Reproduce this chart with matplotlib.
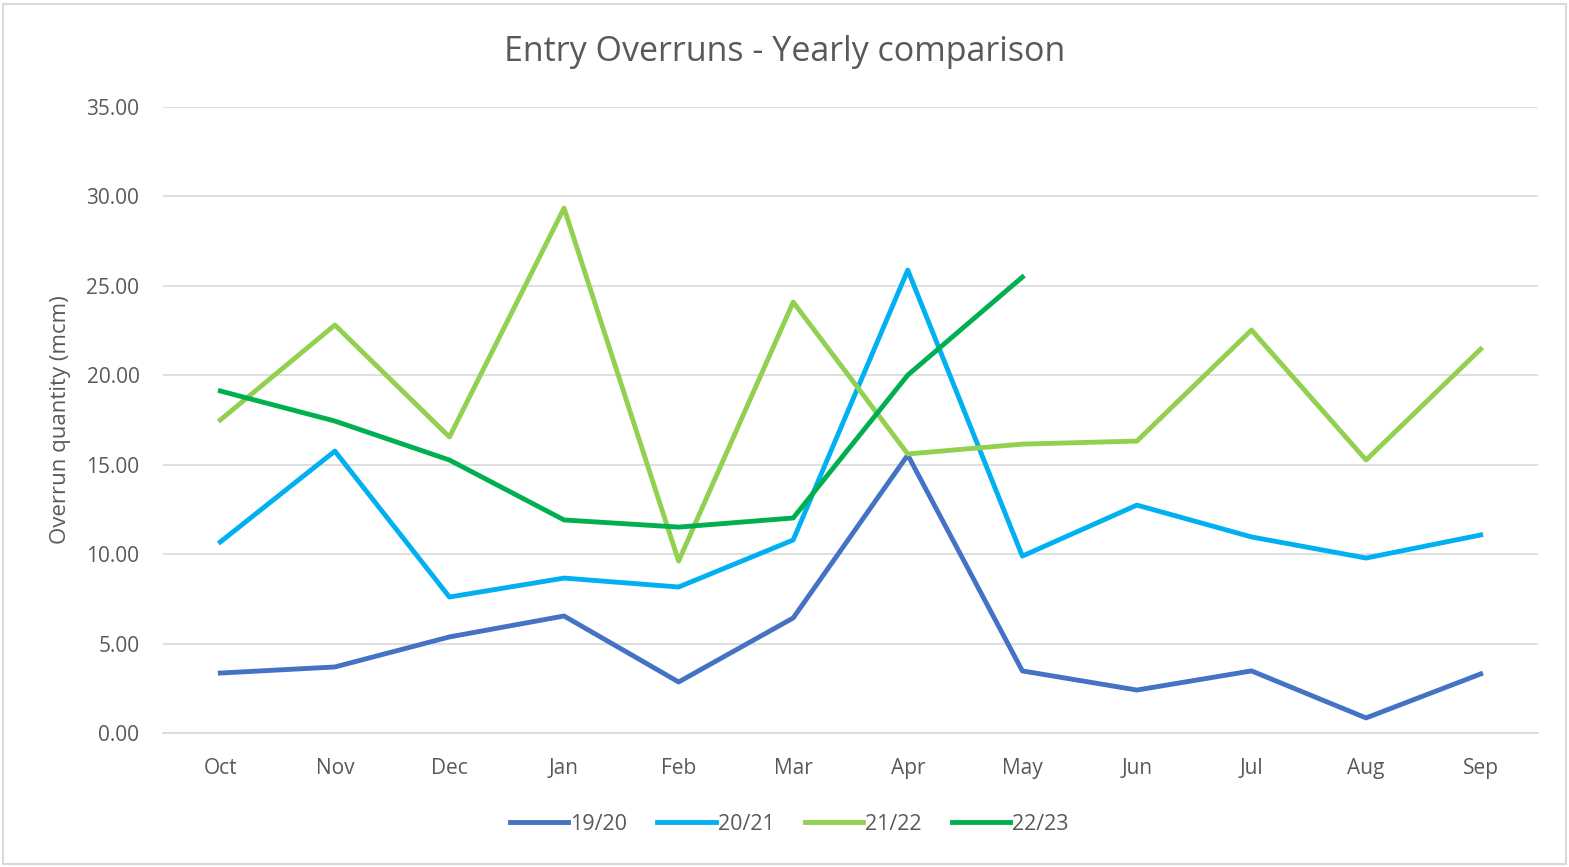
import matplotlib.pyplot as plt
from matplotlib.patches import Rectangle

months = ['Oct', 'Nov', 'Dec', 'Jan', 'Feb', 'Mar', 'Apr', 'May', 'Jun', 'Jul', 'Aug', 'Sep']
y1920 = [3.35, 3.69, 5.37, 6.54, 2.85, 6.43, 15.54, 3.47, 2.40, 3.47, 0.84, 3.30]
y2021 = [10.68, 15.76, 7.60, 8.66, 8.16, 10.79, 25.88, 9.89, 12.74, 10.96, 9.78, 11.07]
y2122 = [17.50, 22.81, 16.55, 29.35, 9.61, 24.09, 15.60, 16.15, 16.32, 22.53, 15.26, 21.46]
y2223 = [19.12, 17.44, 15.26, 11.91, 11.51, 12.02, 20.01, 25.49]

plt.rcParams['font.family'] = ['Open Sans', 'DejaVu Sans']

fig = plt.figure(figsize=(15.69, 8.67), dpi=100)
ax = fig.add_axes([0.1039, 0.1546, 0.8763, 0.722])

x = list(range(len(months)))
ax.plot(x, y1920, color='#4472C4', lw=3.5, label='19/20')
ax.plot(x, y2021, color='#00B0F0', lw=3.5, label='20/21')
ax.plot(x, y2122, color='#92D050', lw=3.5, label='21/22')
ax.plot(x[:len(y2223)], y2223, color='#00B050', lw=3.5, label='22/23')

ax.set_xlim(-0.5, 11.5)
ax.set_ylim(0, 35)
ax.set_yticks(range(0, 36, 5))
ax.set_yticklabels(['%.2f' % v for v in range(0, 36, 5)])
ax.set_xticks(x)
ax.set_xticklabels(months)
ax.grid(axis='y', color='#d9d9d9', lw=1.2)
ax.set_axisbelow(True)
for s in ['top', 'right', 'left']:
    ax.spines[s].set_visible(False)
ax.spines['bottom'].set_color('#d9d9d9')
ax.spines['bottom'].set_linewidth(1.2)
ax.tick_params(length=0, labelsize=15, colors='#595959')
ax.tick_params(axis='x', pad=18)
ax.tick_params(axis='y', pad=17)

ax.set_ylabel('Overrun quantity (mcm)', fontsize=16, color='#595959')
ax.yaxis.set_label_coords(-0.067, 0.5)

fig.text(0.5, 0.940, 'Entry Overruns - Yearly comparison', ha='center', va='center',
         fontsize=24.5, color='#595959')

fig.legend(loc='center', bbox_to_anchor=(0.503, 0.049), ncol=4, frameon=False,
           fontsize=15.5, handlelength=2.7, handletextpad=0.1, columnspacing=1.4,
           labelcolor='#595959')

fig.patches.append(Rectangle((0.002, 0.003), 0.996, 0.992, transform=fig.transFigure,
                             fill=False, edgecolor='#d9d9d9', lw=1.5))

fig.savefig('out.png', dpi=100)
